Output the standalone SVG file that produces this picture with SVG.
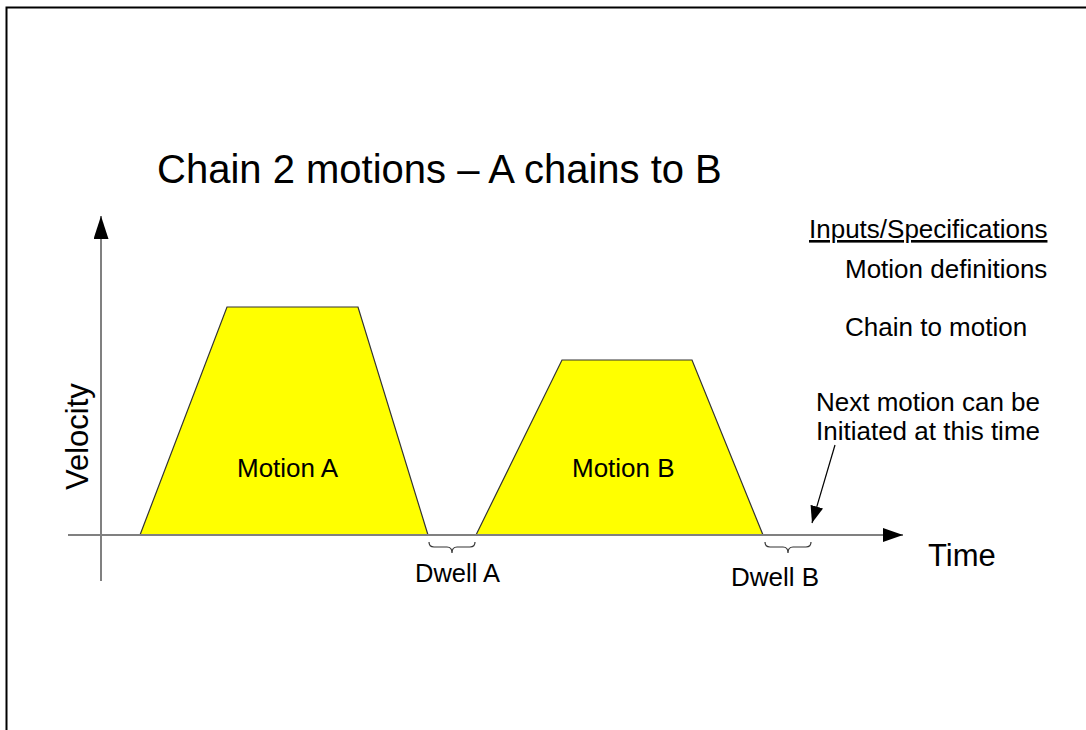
<svg xmlns="http://www.w3.org/2000/svg" width="1086" height="730" viewBox="0 0 1086 730">
<style>
text{font-family:"Liberation Sans",Arial,sans-serif;fill:#000}
.axis{stroke:#808080;stroke-width:2;fill:none}
.shape{fill:#ffff00;stroke:#333;stroke-width:1.2}
.brace{fill:none;stroke:#333;stroke-width:1.2}
.lbl{font-size:26px}
</style>
<defs>
<marker id="ah" markerWidth="20" markerHeight="14" refX="20" refY="7" orient="auto" markerUnits="userSpaceOnUse"><path d="M0,0L20,7L0,14Z" fill="#000"/></marker>
<marker id="ahy" markerWidth="23" markerHeight="15" refX="23" refY="7.5" orient="auto" markerUnits="userSpaceOnUse"><path d="M0,0L23,7.5L0,15Z" fill="#000"/></marker>
<marker id="ah2" markerWidth="17" markerHeight="13" refX="17" refY="6.5" orient="auto" markerUnits="userSpaceOnUse"><path d="M0,0L17,6.5L0,13Z" fill="#000"/></marker>
</defs>
<rect width="1086" height="730" fill="#fff"/>
<path d="M6.5,730V7.5H1086" fill="none" stroke="#000" stroke-width="2"/>
<text x="157" y="183" font-size="40">Chain 2 motions – A chains to B</text>
<g id="motionA"><path class="shape" d="M140,535L227,307L358,307L428,535Z"/><text x="237" y="477" class="lbl">Motion A</text></g>
<g id="motionB"><path class="shape" d="M476,535L562,360L692,360L763,535Z"/><text x="572" y="477" class="lbl">Motion B</text></g>
<g id="connectors">
<line class="axis" x1="101" y1="581" x2="101" y2="216" marker-end="url(#ahy)"/>
<line class="axis" x1="68" y1="535" x2="903" y2="535" marker-end="url(#ah)"/>
<path class="brace" d="M429,542Q429,547 434,547H447Q452,547 452,553Q452,547 457,547H470Q475,547 475,542"/>
<path class="brace" d="M765,542Q765,547 770,547H783Q788,547 788,553Q788,547 793,547H806Q811,547 811,542"/>
<line x1="835" y1="445" x2="812" y2="523" stroke="#000" stroke-width="1.2" marker-end="url(#ah2)"/>
</g>
<g id="labels">
<text x="0" y="0" font-size="31" transform="translate(88,490) rotate(-90)">Velocity</text>
<text x="928" y="566" font-size="31">Time</text>
<text x="415" y="582" font-size="25.5">Dwell A</text>
<text x="731" y="586" font-size="26">Dwell B</text>
<text x="809" y="238" class="lbl" text-decoration="underline">Inputs/Specifications</text>
<text x="845" y="278" class="lbl">Motion definitions</text>
<text x="845" y="336" class="lbl">Chain to motion</text>
<text x="816" y="411" class="lbl">Next motion can be</text>
<text x="816" y="440" class="lbl">Initiated at this time</text>
</g>
</svg>
